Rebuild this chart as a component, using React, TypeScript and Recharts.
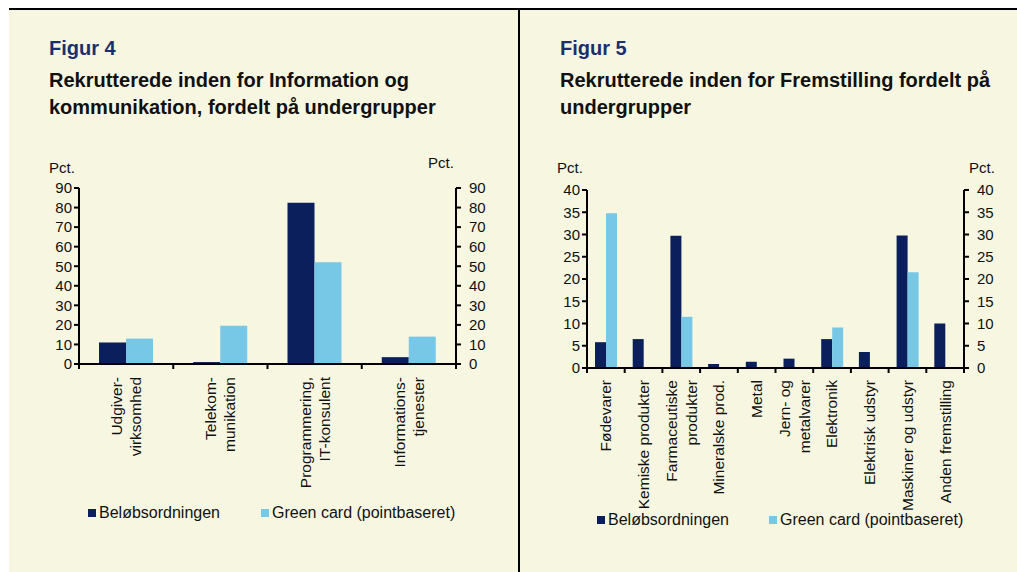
import { BarChart, Bar, XAxis, YAxis } from 'recharts';

// Figur 4 - Information og kommunikation
const infoCategories = ['Udgiver-\nvirksomhed', 'Telekom-\nmunikation', 'Programmering,\nIT-konsulent', 'Informations-\ntjenester'];
const infoBelob = [11, 1, 82.5, 3.5];
const infoGreen = [13, 19.5, 52, 14];
const infoTicks = [0, 10, 20, 30, 40, 50, 60, 70, 80, 90];

// Figur 5 - Fremstilling
const prodCategories = [
  'Fødevarer',
  'Kemiske produkter',
  'Farmaceutiske\nprodukter',
  'Mineralske prod.',
  'Metal',
  'Jern- og\nmetalvarer',
  'Elektronik',
  'Elektrisk udstyr',
  'Maskiner og udstyr',
  'Anden fremstilling',
];
const prodBelob = [5.8, 6.5, 29.7, 0.9, 1.4, 2.1, 6.5, 3.6, 29.8, 10];
const prodGreen = [34.8, 0, 11.5, 0, 0, 0, 9.1, 0, 21.5, 0];
const prodTicks = [0, 5, 10, 15, 20, 25, 30, 35, 40];

const seriesNames = ['Beløbsordningen', 'Green card (pointbaseret)'];

const DARK = '#0b1f5c';
const LIGHT = '#76c8e6';
const BG = '#f7f7e1';
const FONT = '"Liberation Sans", Arial, sans-serif';

const infoData = infoCategories.map((c, i) => ({ cat: c, belob: infoBelob[i], green: infoGreen[i] }));
const prodData = prodCategories.map((c, i) => ({ cat: c, belob: prodBelob[i], green: prodGreen[i] }));

function makeTick(band: number, gap: number, lineGap: number) {
  return function CatTick(props: any) {
    const { x, y, payload, index } = props;
    const lines = String(payload.value).split('\n');
    const left = x - band / 2;
    const right = x + band / 2;
    const ty = y + gap;
    return (
      <g>
        {index === 0 && <line x1={left} x2={left} y1={y} y2={y + 5} stroke="#000" strokeWidth={2} />}
        <line x1={right} x2={right} y1={y} y2={y + 5} stroke="#000" strokeWidth={2} />
        {lines.map((l, i) => {
          const lx = x + (i - (lines.length - 1) / 2) * lineGap;
          return (
            <text
              key={i}
              x={lx}
              y={ty}
              dy="0.35em"
              transform={`rotate(-90, ${lx}, ${ty})`}
              textAnchor="end"
              fill="#111"
              fontSize={15.5}
              fontFamily={FONT}
            >
              {l}
            </text>
          );
        })}
      </g>
    );
  };
}

const tickStyle = { fill: '#111', fontSize: 15, fontFamily: FONT };
const axisLine = { stroke: '#000', strokeWidth: 2 };

function Legend({ left, top, gap }: { left: number; top: number; gap: number }) {
  return (
    <div style={{ position: 'absolute', left, top, display: 'flex', fontFamily: FONT, fontSize: 16, color: '#111', lineHeight: '18px' }}>
      <div style={{ display: 'flex', alignItems: 'center', width: gap }}>
        <span style={{ width: 8, height: 8, background: DARK, marginRight: 3 }} />
        {seriesNames[0]}
      </div>
      <div style={{ display: 'flex', alignItems: 'center' }}>
        <span style={{ width: 8, height: 8, background: LIGHT, marginRight: 3 }} />
        {seriesNames[1]}
      </div>
    </div>
  );
}

const abs = (left: number, top: number, extra: any = {}) => ({ position: 'absolute' as const, left, top, ...extra });

export default function App() {
  const infoBand = 377 / infoCategories.length;
  const prodBand = 377 / prodCategories.length;
  return (
    <div style={{ position: 'fixed', left: 0, top: 0, width: 1017, height: 572, background: '#fff', overflow: 'hidden', fontFamily: FONT }}>
      <div style={abs(9, 9, { width: 1008, height: 563, background: BG })} />
      <div style={abs(9, 8, { width: 1008, height: 2, background: '#000' })} />
      <div style={abs(518, 8, { width: 2, height: 564, background: '#000' })} />

      {/* titles */}
      <div style={abs(49, 37, { fontSize: 20, fontWeight: 700, color: '#1b2f6e' })}>Figur 4</div>
      <div style={abs(49, 67, { fontSize: 20, fontWeight: 700, color: '#111', lineHeight: '27px', whiteSpace: 'nowrap' })}>
        Rekrutterede inden for Information og
        <br />
        kommunikation, fordelt på undergrupper
      </div>
      <div style={abs(560, 37, { fontSize: 20, fontWeight: 700, color: '#1b2f6e' })}>Figur 5</div>
      <div style={abs(560, 67, { fontSize: 20, fontWeight: 700, color: '#111', lineHeight: '27px', whiteSpace: 'nowrap' })}>
        Rekrutterede inden for Fremstilling fordelt på
        <br />
        undergrupper
      </div>

      {/* units */}
      <div style={abs(49, 159, { fontSize: 15, color: '#111' })}>Pct.</div>
      <div style={abs(428, 154, { fontSize: 15, color: '#111' })}>Pct.</div>
      <div style={abs(557, 159, { fontSize: 15, color: '#111' })}>Pct.</div>
      <div style={abs(969, 159, { fontSize: 15, color: '#111' })}>Pct.</div>

      <div style={abs(0, 150)}>
        <BarChart width={519} height={400} data={infoData} margin={{ top: 38, right: 0, bottom: 0, left: 0 }} barGap={0} barSize={27}>
          <XAxis dataKey="cat" height={186} interval={0} tickSize={0} tickMargin={0} axisLine={axisLine} tick={makeTick(infoBand, 13, 19)} />
          <YAxis yAxisId="l" orientation="left" width={79} domain={[0, 90]} ticks={infoTicks} interval={0} tickSize={5} tickMargin={2}
            axisLine={axisLine} tickLine={axisLine} tick={tickStyle} />
          <YAxis yAxisId="r" orientation="right" width={63} domain={[0, 90]} ticks={infoTicks} interval={0} tickSize={5} tickMargin={8}
            allowDataOverflow axisLine={axisLine} tickLine={axisLine} tick={tickStyle} />
          <Bar dataKey="belob" name={seriesNames[0]} yAxisId="l" fill={DARK} isAnimationActive={false} />
          <Bar dataKey="green" name={seriesNames[1]} yAxisId="l" fill={LIGHT} isAnimationActive={false} />
        </BarChart>
      </div>

      <div style={abs(519, 150)}>
        <BarChart width={498} height={400} data={prodData} margin={{ top: 40, right: 0, bottom: 0, left: 0 }} barGap={0} barSize={11}>
          <XAxis dataKey="cat" height={182} interval={0} tickSize={0} tickMargin={0} axisLine={axisLine} tick={makeTick(prodBand, 12, 20)} />
          <YAxis yAxisId="l" orientation="left" width={68} domain={[0, 40]} ticks={prodTicks} interval={0} tickSize={5} tickMargin={2}
            axisLine={axisLine} tickLine={axisLine} tick={tickStyle} />
          <YAxis yAxisId="r" orientation="right" width={53} domain={[0, 40]} ticks={prodTicks} interval={0} tickSize={5} tickMargin={8}
            allowDataOverflow axisLine={axisLine} tickLine={axisLine} tick={tickStyle} />
          <Bar dataKey="belob" name={seriesNames[0]} yAxisId="l" fill={DARK} isAnimationActive={false} />
          <Bar dataKey="green" name={seriesNames[1]} yAxisId="l" fill={LIGHT} isAnimationActive={false} />
        </BarChart>
      </div>

      <Legend left={88} top={504} gap={173} />
      <Legend left={597} top={511} gap={172} />
    </div>
  );
}
